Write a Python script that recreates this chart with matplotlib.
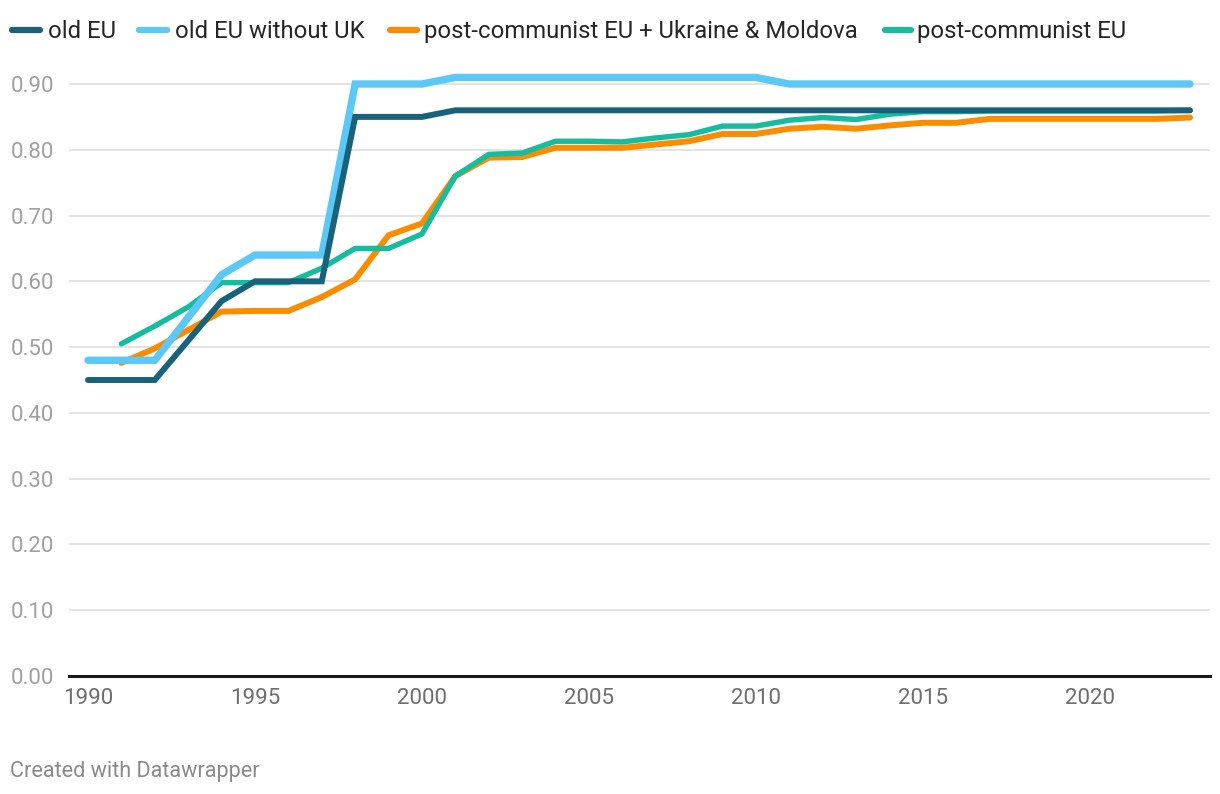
import matplotlib
matplotlib.use("Agg")
import matplotlib.pyplot as plt
from matplotlib.lines import Line2D
import numpy as np

plt.rcParams['font.family'] = ['Roboto', 'DejaVu Sans']

years = list(range(1990, 2024))
years_pc = list(range(1991, 2024))

old_eu = [0.45, 0.45, 0.45, 0.51, 0.57, 0.60, 0.60, 0.60, 0.85, 0.85, 0.85,
          0.86, 0.86, 0.86, 0.86, 0.86, 0.86, 0.86, 0.86, 0.86, 0.86, 0.86,
          0.86, 0.86, 0.86, 0.86, 0.86, 0.86, 0.86, 0.86, 0.86, 0.86, 0.86, 0.86]
old_eu_no_uk = [0.48, 0.48, 0.48, 0.545, 0.61, 0.64, 0.64, 0.64, 0.90, 0.90, 0.90,
                0.91, 0.91, 0.91, 0.91, 0.91, 0.91, 0.91, 0.91, 0.91, 0.91,
                0.90, 0.90, 0.90, 0.90, 0.90, 0.90, 0.90, 0.90, 0.90, 0.90, 0.90, 0.90, 0.90]
pc_ua_md = [0.476, 0.498, 0.526, 0.554, 0.555, 0.555, 0.576, 0.603, 0.670, 0.688,
            0.760, 0.788, 0.789, 0.803, 0.803, 0.803, 0.808, 0.813, 0.824, 0.824,
            0.832, 0.835, 0.832, 0.837, 0.841, 0.841, 0.847, 0.847, 0.847, 0.847,
            0.847, 0.847, 0.849]
pc_eu = [0.505, 0.532, 0.561, 0.598, 0.598, 0.598, 0.620, 0.650, 0.650, 0.672,
         0.760, 0.793, 0.795, 0.813, 0.813, 0.812, 0.818, 0.823, 0.836, 0.836,
         0.845, 0.849, 0.846, 0.854, 0.858, 0.858, 0.859, 0.859, 0.859, 0.859,
         0.859, 0.859, 0.860]

labels = ["old EU", "old EU without UK", "post-communist EU + Ukraine & Moldova", "post-communist EU"]
colors = ["#18627b", "#5bc8f6", "#fa8c00", "#15bc9f"]
yticks = [0.0, 0.1, 0.2, 0.3, 0.4, 0.5, 0.6, 0.7, 0.8, 0.9]
xticks = [1990, 1995, 2000, 2005, 2010, 2015, 2020]

W, H = 1220, 794
fig = plt.figure(figsize=(W / 100, H / 100), dpi=100)
ax_left, ax_right = 69 / W, 1210 / W
ax_bottom, ax_top = 1 - 676 / H, 1 - 60 / H
ax = fig.add_axes([ax_left, ax_bottom, ax_right - ax_left, ax_top - ax_bottom])

ax.plot(years_pc, pc_ua_md, color=colors[2], lw=4.3, solid_capstyle='round', solid_joinstyle='miter', zorder=3)
ax.plot(years_pc, pc_eu, color=colors[3], lw=3.9, solid_capstyle='round', solid_joinstyle='miter', zorder=4)
ax.plot(years, old_eu_no_uk, color=colors[1], lw=5.3, solid_capstyle='round', solid_joinstyle='miter', zorder=5)
ax.plot(years, old_eu, color=colors[0], lw=4.3, solid_capstyle='round', solid_joinstyle='miter', zorder=6)

ax.set_xlim(1990 - 19 / 33.4, 2023 + 20 / 33.4)
ax.set_ylim(0, 0.9 * 616 / 592)

for s in ax.spines.values():
    s.set_visible(False)
ax.set_yticks(yticks)
ax.set_yticklabels([f"{v:.2f}" for v in yticks])
ax.set_xticks(xticks)
ax.set_xticklabels([str(v) for v in xticks])
ax.tick_params(axis='y', length=0, pad=42, labelsize=16, labelcolor='#a0a0a0')
for lab in ax.get_yticklabels():
    lab.set_horizontalalignment('left')
ax.tick_params(axis='x', length=0, pad=9, labelsize=16, labelcolor='#6e6e6e')
ax.grid(axis='y', color='#e3e3e3', lw=1.4, zorder=0)
ax.grid(axis='x', visible=False)
ax.axhline(0, color='#1a1a1a', lw=2.2, zorder=7, clip_on=False)

# legend
legend_y = 1 - 30 / H
handle_x = [(12, 40), (139, 167), (390, 417), (885, 911)]
text_x = [48, 175, 424, 917]
for (x0, x1), tx, lab, c in zip(handle_x, text_x, labels, colors):
    fig.add_artist(Line2D([x0 / W, x1 / W], [legend_y, legend_y], color=c, lw=4.5,
                          solid_capstyle='round', transform=fig.transFigure))
    fig.text(tx / W, legend_y - 1.5 / H, lab, fontsize=17.2, color='#262626', va='center', ha='left')

fig.text(10 / W, 1 - 771 / H, "Created with Datawrapper", fontsize=15.6, color='#8a8a8a',
         va='center', ha='left')

fig.savefig("out.png", dpi=100, facecolor='white')
